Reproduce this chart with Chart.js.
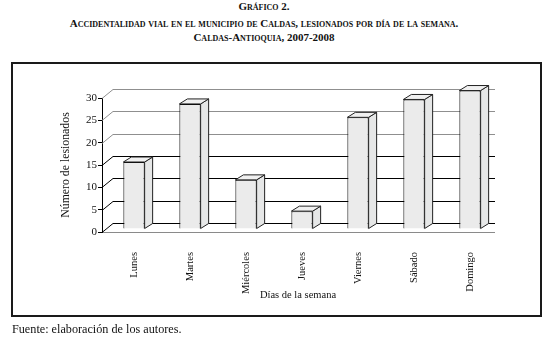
<!DOCTYPE html>
<html>
<head>
<meta charset="utf-8">
<script src="https://cdn.jsdelivr.net/npm/chart.js@4.4.1/dist/chart.umd.min.js"></script>
<style>
  body { margin: 0; background: #fff; }
  #page { position: relative; width: 551px; height: 344px; font-family: "Liberation Serif", serif; color: #111; }
  .ttl { position: absolute; left: 0; width: 528px; text-align: center; font-weight: bold; font-variant: small-caps; font-size: 11px; line-height: 13px; }
  #frame { position: absolute; left: 11px; top: 62px; width: 531px; height: 255px; box-sizing: border-box; border: 2px solid #1a1a1a; }
  #wrap { position: absolute; left: 0; top: 0; width: 551px; height: 344px; }
  #foot { position: absolute; left: 12px; top: 322px; font-size: 12.2px; line-height: 14px; }
</style>
</head>
<body>
<div id="page">
  <div class="ttl" style="top:0px">Gráfico 2.</div>
  <div class="ttl" style="top:17px">Accidentalidad vial en el municipio de Caldas, lesionados por día de la semana.</div>
  <div class="ttl" style="top:31px">Caldas-Antioquia, 2007-2008</div>
  <div id="frame"></div>
  <div id="wrap"><canvas id="grafica"></canvas></div>
  <div id="foot">Fuente: elaboración de los autores.</div>
</div>
<script>
const dias = ['Lunes', 'Martes', 'Miércoles', 'Jueves', 'Viernes', 'Sábado', 'Domingo'];
const lesionados = [15, 28, 11, 4, 25, 29, 31];
const yTicks = [0, 5, 10, 15, 20, 25, 30];

const serif = '"Liberation Serif", "Times New Roman", serif';

// fondo 3D: pared trasera y barras con cara superior y lateral
const efecto3d = {
  id: 'efecto3d',
  beforeDatasetsDraw(chart) {
    const ctx = chart.ctx;
    const y = chart.scales.y;
    const area = chart.chartArea;
    ctx.save();
    ctx.lineWidth = 1;
    yTicks.forEach(v => {
      const py = Math.round(y.getPixelForValue(v)) + 0.5;
      ctx.strokeStyle = v >= 20 ? '#8f8f8f' : '#000';
      ctx.beginPath();
      ctx.moveTo(area.left, py);
      ctx.lineTo(area.left + 11, py - 9);
      ctx.lineTo(area.right + 1, py - 9);
      ctx.stroke();
    });
    ctx.restore();
    ctx.save();
    ctx.translate(4, -3);
  },
  afterDatasetsDraw(chart) {
    const ctx = chart.ctx;
    const dx = 8, dy = -5;
    chart.getDatasetMeta(0).data.forEach(bar => {
      const l = bar.x - bar.width / 2, r = bar.x + bar.width / 2;
      const t = bar.y, b = bar.base;
      ctx.lineWidth = 1;
      ctx.strokeStyle = '#222';
      ctx.fillStyle = '#e6e7e7';
      ctx.beginPath();
      ctx.moveTo(r, b);
      ctx.lineTo(r + dx, b + dy);
      ctx.lineTo(r + dx, t + dy);
      ctx.lineTo(r, t);
      ctx.closePath();
      ctx.fill();
      ctx.stroke();
      ctx.fillStyle = '#f0f0f0';
      ctx.beginPath();
      ctx.moveTo(l, t);
      ctx.lineTo(l + dx, t + dy);
      ctx.lineTo(r + dx, t + dy);
      ctx.lineTo(r, t);
      ctx.closePath();
      ctx.fill();
      ctx.stroke();
    });
    ctx.restore();
  }
};

const graph = document.getElementById('grafica');
const myChart = new Chart(graph, {
  type: 'bar',
  data: {
    labels: dias,
    datasets: [
      {
        label: 'Lesionados',
        data: lesionados,
        backgroundColor: '#ebebeb',
        borderColor: '#000',
        borderWidth: 1,
        barPercentage: 0.38,
        categoryPercentage: 1,
        clip: false,
      },
    ],
  },
  options: {
    responsive: true,
    maintainAspectRatio: false,
    animation: false,
    events: [],
    layout: { padding: { left: 55, top: 98, right: 57, bottom: 38 } },
    plugins: { legend: { display: false }, tooltip: { enabled: false } },
    scales: {
      x: {
        afterFit: s => { s.height = 74; },
        grid: { display: false },
        border: { color: '#8a8a8a', width: 1 },
        ticks: {
          maxRotation: 90, minRotation: 90, padding: 12, labelOffset: 4,
          color: '#111', font: { family: serif, size: 10.5 },
        },
        title: {
          display: true, text: 'Días de la semana', color: '#111',
          font: { family: serif, size: 10.5 }, padding: { top: 0, bottom: 4 },
        },
      },
      y: {
        min: 0, max: 30,
        afterFit: s => { s.width = 47; },
        afterBuildTicks: s => { s.ticks = yTicks.map(v => ({ value: v })); },
        grid: { drawOnChartArea: false, drawTicks: true, tickLength: 4, color: '#000' },
        border: { color: '#000', width: 1 },
        ticks: { padding: 1, color: '#111', font: { family: serif, size: 11 } },
        title: {
          display: true, text: 'Número de lesionados', color: '#111',
          font: { family: serif, size: 11.8 }, padding: { top: 4, bottom: 0 },
        },
      },
    },
  },
  plugins: [efecto3d],
});
</script>
</body>
</html>
